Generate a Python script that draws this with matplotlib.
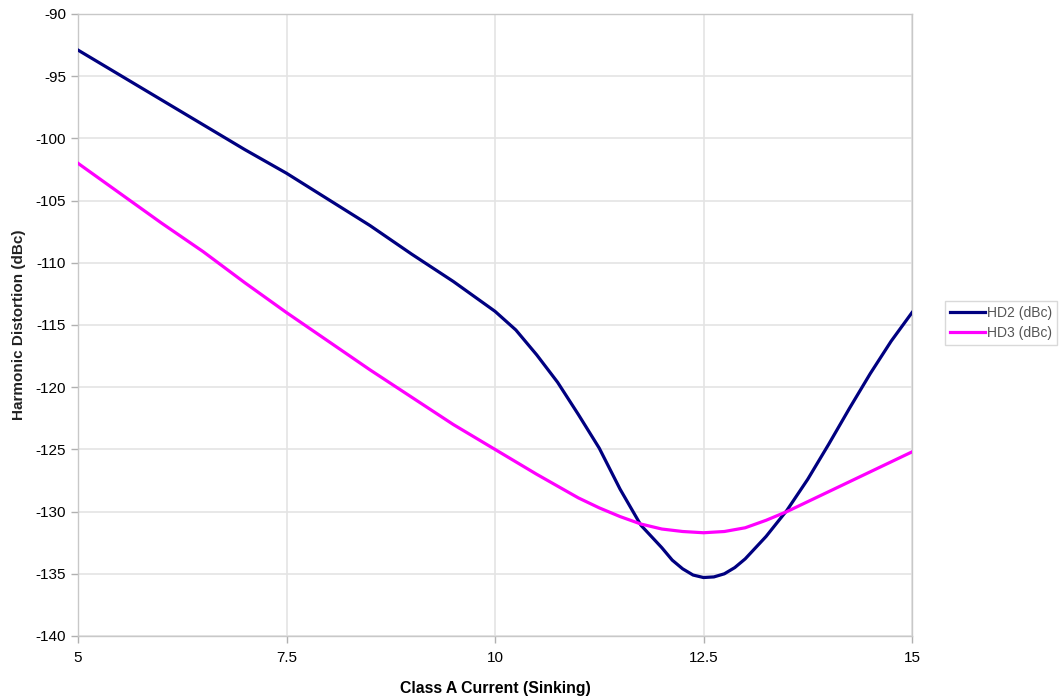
import matplotlib
matplotlib.use("Agg")
import matplotlib.pyplot as plt

plt.rcParams['font.family'] = ['Liberation Sans', 'DejaVu Sans']
plt.rcParams['axes.unicode_minus'] = False

hd2_x = [5.0, 5.5, 6.0, 6.5, 7.0, 7.5, 8.0, 8.5, 9.0, 9.5, 10.0, 10.25, 10.5, 10.75,
         11.0, 11.25, 11.5, 11.75, 12.0, 12.125, 12.25, 12.375, 12.5, 12.625, 12.75,
         12.875, 13.0, 13.25, 13.5, 13.75, 14.0, 14.25, 14.5, 14.75, 15.0]
hd2_y = [-92.9, -94.9, -96.9, -98.9, -100.9, -102.8, -104.9, -107.0, -109.3, -111.5,
         -113.9, -115.4, -117.4, -119.6, -122.2, -124.9, -128.2, -131.1, -132.9, -133.9,
         -134.6, -135.1, -135.3, -135.25, -135.0, -134.5, -133.8, -132.0, -129.9, -127.4,
         -124.6, -121.7, -118.9, -116.3, -114.0]

hd3_x = [5.0, 5.5, 6.0, 6.5, 7.0, 7.5, 8.0, 8.5, 9.0, 9.5, 10.0, 10.5, 11.0, 11.25,
         11.5, 11.75, 12.0, 12.25, 12.5, 12.75, 13.0, 13.25, 13.5, 13.75, 14.0, 14.5, 15.0]
hd3_y = [-102.0, -104.4, -106.8, -109.1, -111.6, -114.0, -116.3, -118.6, -120.8, -123.0,
         -125.0, -127.0, -128.9, -129.7, -130.4, -131.0, -131.4, -131.6, -131.7, -131.6,
         -131.3, -130.7, -130.0, -129.2, -128.4, -126.8, -125.2]

x_ticks = [5, 7.5, 10, 12.5, 15]
x_tick_labels = ['5', '7.5', '10', '12.5', '15']
y_ticks = [-140, -135, -130, -125, -120, -115, -110, -105, -100, -95, -90]

fig = plt.figure(figsize=(10.61, 6.96), dpi=100)
ax = fig.add_axes([78/1061, 1-636/696, (912-78)/1061, (636-14)/696])

ax.plot(hd2_x, hd2_y, color='#000080', lw=2.3, label='HD2 (dBc)', zorder=3,
        solid_joinstyle='round')
ax.plot(hd3_x, hd3_y, color='#FF00FF', lw=2.3, label='HD3 (dBc)', zorder=3,
        solid_joinstyle='round')

ax.set_xlim(5, 15)
ax.set_ylim(-140, -90)
ax.set_xticks(x_ticks)
ax.set_xticklabels(x_tick_labels)
ax.set_yticks(y_ticks)
ax.grid(True, color='#e4e4e4', lw=1.2)
ax.set_axisbelow(True)
for s in ax.spines.values():
    s.set_color('#c8c8c8')
    s.set_linewidth(1.0)
ax.tick_params(axis='both', colors='#b0b0b0', labelcolor='black', labelsize=11,
               length=5, width=1)
ax.tick_params(axis='x', pad=6)

ax.set_xlabel('Class A Current (Sinking)', fontsize=11.4, fontweight='bold', labelpad=11)
fig.text(19/1061, 1-325/696, 'Harmonic Distortion (dBc)', rotation=90, fontsize=11,
         fontweight='bold', ha='center', va='center', color='#222222')

leg = ax.legend(loc='center left', bbox_to_anchor=(945/1061, 1-323/696),
                bbox_transform=fig.transFigure, frameon=True, fontsize=10,
                handlelength=2.5, borderpad=0.35, labelspacing=0.45, fancybox=False,
                handletextpad=0.15, borderaxespad=0)
leg.get_frame().set_edgecolor('#d0d0d0')
leg.get_frame().set_linewidth(1.0)
for t in leg.get_texts():
    t.set_color('#555555')

fig.savefig('out.png', dpi=100)
